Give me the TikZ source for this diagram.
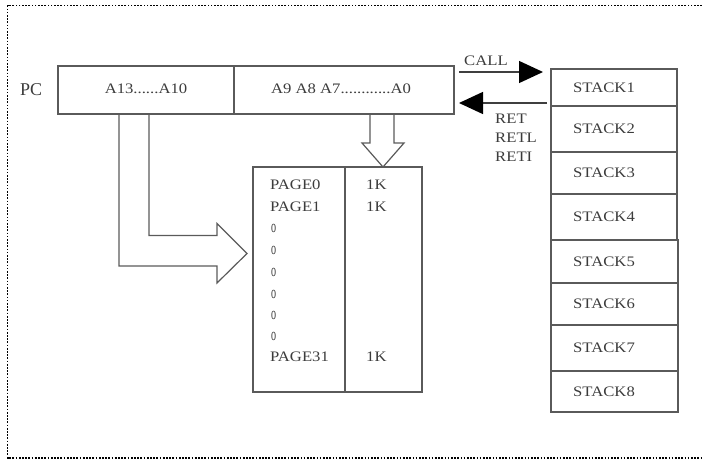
\documentclass[tikz,border=0pt]{standalone}
\usepackage{fontspec}
\setmainfont[FakeStretch=1.15]{Liberation Serif}
\newfontfamily\plainserif{Liberation Serif}
\usetikzlibrary{arrows.meta,calc}
\definecolor{ink}{HTML}{5A5A5A}
\definecolor{txt}{HTML}{3C3C3C}
\begin{document}
\begin{tikzpicture}[x=1pt,y=-1pt,
  cell/.style={draw=ink,line width=1.2pt,inner sep=0pt,outer sep=0pt,anchor=north west},
  lbl/.style={text=txt,font=\fontsize{14.5}{16}\selectfont,inner sep=0pt},
  hollow/.style={draw=ink,line width=1.2pt,line join=miter},
  bigtip/.style={-{Triangle[length=24pt,width=22pt,color=black]},line width=1.3pt,draw=ink!70!black}]
\useasboundingbox (0,0) rectangle (702,460);
% dotted frame
\draw[line width=1.4pt,dash pattern=on 1.7pt off 1.5pt] (702,5.5) -- (7.5,5.5) -- (7.5,458) -- (702,458);

% program counter
\node[lbl,font=\plainserif\fontsize{18}{20}\selectfont,anchor=west] (pc) at (20,90) {PC};
\node[cell,minimum width=176pt,minimum height=48pt] (pcHi) at (58,66) {};
\node[cell,minimum width=220pt,minimum height=48pt] (pcLo) at (234,66) {};
\node[lbl] (hiTxt) at (146,89) {A13......A10};
\node[lbl] (loTxt) at (341,89) {A9 A8 A7............A0};

% page table
\node[cell,minimum width=92pt,minimum height=225pt] (pageL) at (253,167) {};
\node[cell,minimum width=77pt,minimum height=225pt] (pageR) at (345,167) {};
\node[lbl,anchor=west] (p0) at (270,185) {PAGE0};
\node[lbl,anchor=west] (p1) at (270,207) {PAGE1};
\foreach \i/\yy in {1/228,2/250,3/272,4/294,5/315,6/336}
  \node[lbl,anchor=west] (dot\i) at (271,\yy) {\scalebox{0.72}[1.25]{\plainserif\fontsize{14}{14}\selectfont o}};
\node[lbl,anchor=west] (p31) at (270,357) {PAGE31};
\node[lbl,anchor=west] (k0) at (366,185) {1K};
\node[lbl,anchor=west] (k1) at (366,207) {1K};
\node[lbl,anchor=west] (k31) at (366,357) {1K};

% stack
\foreach \i/\ya/\yb/\w in {1/69/106/126,2/106/152/126,3/152/194/126,4/194/240/126,
                          5/240/283/127,6/283/325/127,7/325/371/127,8/371/412/127}{
  \node[cell,minimum width=\w pt,minimum height={\yb-\ya}] (st\i) at (551,\ya) {};
  \node[lbl,anchor=west] (stt\i) at ($(st\i.west)+(22,0)$) {STACK\i};
}

% call / return arrows
\coordinate (callA) at ($(pcLo.north east)+(5,6)$);
\draw[bigtip,shorten >=8pt] (callA) -- (callA -| st1.west);
\node[lbl,anchor=south west] (callT) at ($(callA)+(5,-6)$) {CALL};
\coordinate (retA) at ($(st1.south west)+(-4,-3)$);
\draw[bigtip,shorten >=5pt] (retA) -- (retA -| pcLo.east);
\node[lbl,anchor=west] (r1) at (495,119) {RET};
\node[lbl,anchor=west] (r2) at (495,138) {RETL};
\node[lbl,anchor=west] (r3) at (495,157) {RETI};

% hollow arrow: low address bits select the word
\coordinate (dA) at ($(pcLo.south west)+(136,0)$);
\coordinate (dB) at ($(pcLo.south west)+(160,0)$);
\coordinate (dT) at ($(pageR.north west)+(38,0)$);
\draw[hollow] (dA) -- ++(0,29) -- ++(-8,0) -- (dT) -- ($(dB)+(10,29)$) -- ($(dB)+(0,29)$) -- (dB);

% hollow bent arrow: high address bits select the page
\coordinate (lA) at ($(pcHi.south west)+(61,0)$);
\coordinate (lB) at ($(pcHi.south west)+(91,0)$);
\coordinate (lT) at ($(pageL.west)+(-6,-26)$);
\draw[hollow] (lA) |- ++(98,152) -- ++(0,17) -- (lT) -- ($(lT)+(-30,-30)$) -- ($(lT)+(-30,-18)$) -| (lB);
\end{tikzpicture}
\end{document}
